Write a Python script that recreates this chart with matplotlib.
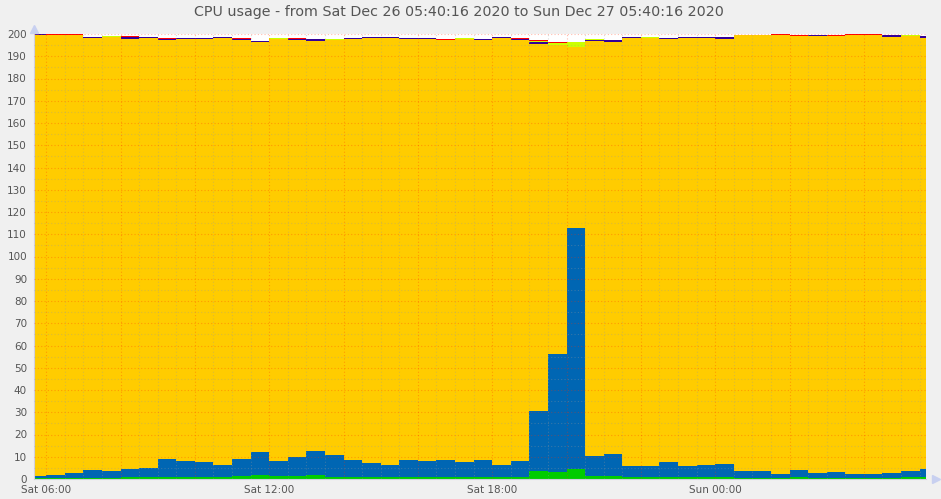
import matplotlib
matplotlib.use('Agg')
import matplotlib.pyplot as plt
import matplotlib.dates as mdates
from matplotlib.ticker import MultipleLocator, FuncFormatter
import numpy as np
import pandas as pd

# munin style cpu graph, 2 cpus (200%), 30 min samples
start = pd.Timestamp('2020-12-26 05:40:16')
end = pd.Timestamp('2020-12-27 05:40:16')
first_sample = '2020-12-26 06:00'
last_sample = '2020-12-27 05:30'

system = [0.3, 0.3, 0.3, 0.6, 0.6, 0.7, 0.7, 1.0, 1.0, 1.0, 0.9, 1.2, 1.7, 1.2, 1.2, 1.8,
          1.0, 0.9, 0.8, 0.7, 0.9, 0.9, 0.9, 0.8, 0.9, 0.7, 0.8, 3.7, 3.1, 4.3, 1.2, 1.2,
          0.8, 0.8, 1.0, 0.8, 0.7, 0.7, 0.6, 0.6, 0.5, 0.8, 0.5, 0.5, 0.5, 0.5, 0.5, 0.8, 0.8]
user = [1.2, 1.6, 2.4, 3.6, 3.1, 3.9, 4.4, 8.1, 7.2, 6.8, 5.2, 7.9, 10.4, 7.0, 8.5, 10.9,
        9.6, 7.8, 6.4, 5.4, 7.8, 7.3, 7.8, 7.0, 7.8, 5.4, 7.4, 27.0, 53.2, 108.4, 9.0, 10.0,
        4.9, 4.9, 6.8, 4.9, 5.4, 6.0, 2.8, 2.8, 1.7, 3.4, 2.3, 2.8, 1.7, 1.7, 2.3, 2.9, 3.6]
idle = [198.0, 197.6, 196.8, 194.1, 194.9, 193.3, 193.2, 188.3, 189.7, 190.1, 192.2, 188.3,
        184.3, 189.5, 187.6, 184.1, 186.8, 188.9, 191.0, 192.2, 189.2, 189.7, 188.5, 190.1,
        188.6, 192.1, 189.1, 164.7, 138.8, 81.6, 186.6, 185.2, 192.5, 192.6, 190.1, 192.5,
        192.1, 191.0, 196.0, 196.0, 197.3, 194.7, 196.1, 195.6, 197.3, 197.3, 196.0, 195.2, 193.8]
iowait = [0.45, 0, 0, 0.45, 0, 0.7, 0.45, 0.35, 0.45, 0.45, 0.45, 0.3, 0.6, 0, 0.4, 0.75,
          0, 0.6, 0.3, 0.45, 0.45, 0.45, 0.3, 0, 0.25, 0.6, 0.3, 0.8, 0, 0, 0.45, 0.9,
          0.6, 0, 0.45, 0.45, 0.45, 0.9, 0, 0, 0, 0, 0.45, 0, 0, 0, 0.6, 0, 0.9]
softirq = [0, 0, 0, 0, 0.45, 0, 0, 0, 0, 0, 0, 0, 0, 0.6, 0, 0,
           0.45, 0, 0, 0, 0, 0, 0, 0.45, 0, 0, 0, 0.6, 1.0, 2.3, 0.3, 0,
           0, 0.45, 0, 0, 0, 0, 0, 0, 0, 0, 0, 0, 0, 0, 0, 0.45, 0]
steal = [0, 0.45, 0.45, 0, 0, 0.5, 0, 0.4, 0, 0, 0, 0.3, 0, 0, 0.35, 0,
         0, 0, 0.3, 0, 0, 0, 0.35, 0, 0.35, 0, 0.4, 0.5, 0.5, 0, 0, 0,
         0, 0, 0, 0, 0, 0, 0, 0, 0.45, 0.45, 0, 0.45, 0.45, 0.45, 0, 0, 0]

layers = [system, user, idle, iowait, softirq, steal]
colors = ['#00CC00', '#0066B3', '#FFCC00', '#330099', '#CCFF00', '#FF0000']

edges = [start] + list(pd.date_range(first_sample, last_sample, freq='30min')) + [end]
edges = [e.to_pydatetime() for e in edges]

fig = plt.figure(figsize=(9.41, 4.99), dpi=100, facecolor='#F0F0F0')
ax = fig.add_axes([34 / 941, 20 / 499, 892 / 941, 445 / 499])
ax.set_facecolor('white')

bottom = np.zeros(len(edges))
for vals, c in zip(layers, colors):
    v = np.array(vals + [vals[-1]], dtype=float)
    ax.fill_between(edges, bottom, bottom + v, step='post', color=c, linewidth=0)
    bottom = bottom + v

ax.set_xlim(edges[0], edges[-1])
ax.set_ylim(0, 200)

ax.yaxis.set_major_locator(MultipleLocator(10))
ax.yaxis.set_minor_locator(MultipleLocator(5))
ax.xaxis.set_major_locator(mdates.HourLocator(byhour=range(0, 24, 2)))
ax.xaxis.set_minor_locator(mdates.MinuteLocator(byminute=[0, 30]))


def xfmt(v, pos):
    d = mdates.num2date(v)
    return d.strftime('%a %H:%M') if d.hour % 6 == 0 else ''


ax.xaxis.set_major_formatter(FuncFormatter(xfmt))

ax.set_axisbelow(False)
ax.grid(which='major', color='#FF3000', alpha=0.32, linestyle=(0, (1, 2)), linewidth=0.8)
ax.grid(which='minor', color='#999999', alpha=0.35, linestyle=(0, (1, 2)), linewidth=0.8)

ax.tick_params(which='both', length=0, labelsize=7.5, labelcolor='#555555')
ax.tick_params(axis='y', pad=5)
ax.tick_params(axis='x', pad=4)
for s in ['top', 'right']:
    ax.spines[s].set_visible(False)
for s in ['left', 'bottom']:
    ax.spines[s].set_color('#D0D0E0')
    ax.spines[s].set_linewidth(0.8)

# axis arrows
ax.plot([0], [1.012], marker='^', ms=6, color='#C8D0F0', transform=ax.transAxes, clip_on=False)
ax.plot([1.011], [0], marker='>', ms=6, color='#C8D0F0', transform=ax.transAxes, clip_on=False)

fig.text(459 / 941, 1 - 12 / 499, 'CPU usage - from Sat Dec 26 05:40:16 2020 to Sun Dec 27 05:40:16 2020',
         ha='center', va='center', fontsize=10.3, color='#555555')

fig.savefig('out.png', dpi=100, facecolor=fig.get_facecolor())
